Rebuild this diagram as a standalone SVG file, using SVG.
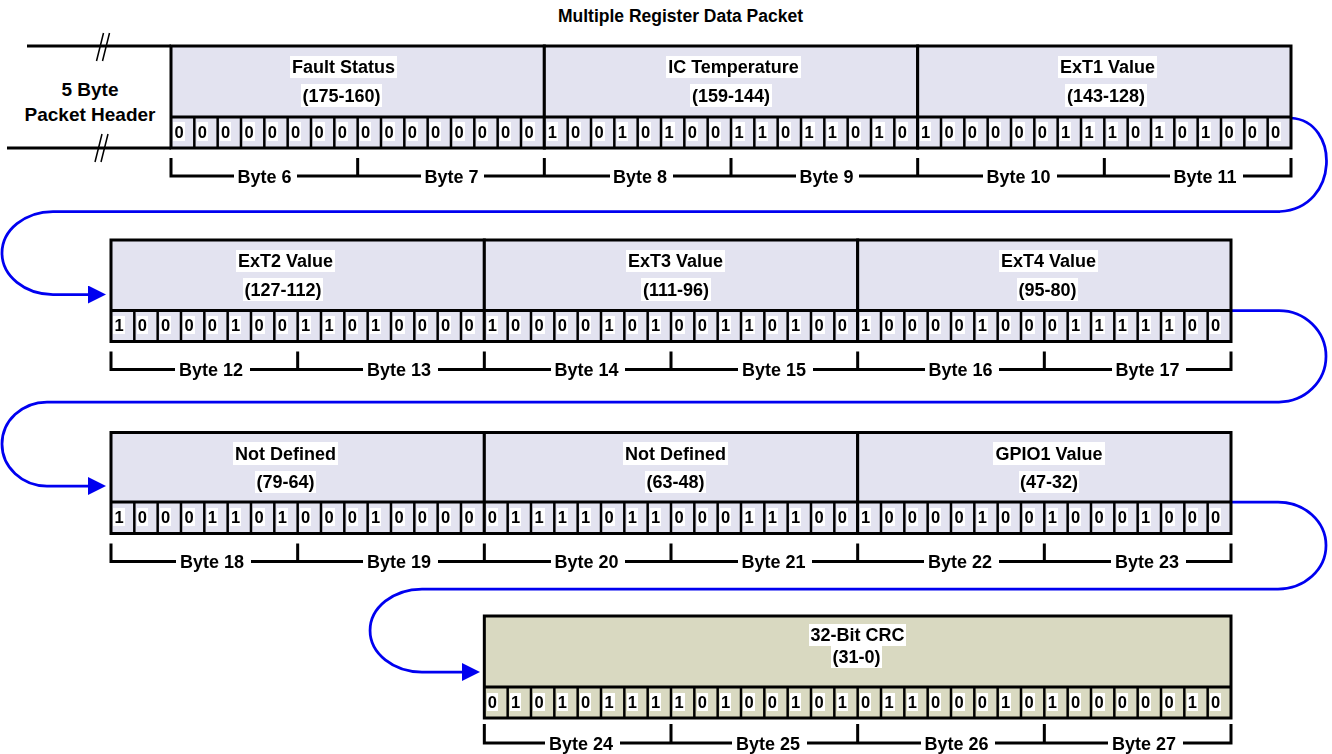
<svg xmlns="http://www.w3.org/2000/svg" width="1332" height="754" viewBox="0 0 1332 754">
<defs>
<style>
text{font-family:"Liberation Sans",Arial,Helvetica,sans-serif;font-weight:bold;fill:#000}
.ttl{font-size:17.5px;text-anchor:middle}
.hdr{font-size:19px;text-anchor:middle}
.lbl{font-size:18px;text-anchor:middle;filter:url(#wb)}
.bl{font-size:18px;text-anchor:middle;filter:url(#wbb)}
.d{font-size:16.5px;text-anchor:middle;filter:url(#wbd)}
.fld{fill:#e3e3f0;stroke:#000;stroke-width:3}
.crc{fill:#d9d9c1;stroke:#000;stroke-width:3}
.ln{fill:none;stroke:#000;stroke-width:3}
.cell{fill:none;stroke:#000;stroke-width:2.5}
.br{fill:none;stroke:#000;stroke-width:3}
.brk{fill:none;stroke:#000;stroke-width:1.5}
.con{fill:none;stroke:#0000f0;stroke-width:2.75}
</style>
<filter id="wb" x="-0.015" y="-0.04" width="1.03" height="1.08" color-interpolation-filters="sRGB"><feFlood flood-color="#ffffff"/><feComposite in="SourceGraphic" operator="over"/></filter>
<filter id="wbb" x="-0.05" y="0" width="1.15" height="1" color-interpolation-filters="sRGB"><feFlood flood-color="#ffffff"/><feComposite in="SourceGraphic" operator="over"/></filter>
<filter id="wbd" x="-0.06" y="0" width="1.12" height="1" color-interpolation-filters="sRGB"><feFlood flood-color="#ffffff"/><feComposite in="SourceGraphic" operator="over"/></filter>
<marker id="ah" viewBox="0 0 18 18" markerWidth="18" markerHeight="18" refX="0" refY="9" orient="auto" markerUnits="userSpaceOnUse"><path d="M0,0 L18,9 L0,18 z" fill="#0000f0"/></marker>
</defs>

<rect x="0" y="0" width="1332" height="754" fill="#ffffff"/>

<g id="title"><text class="ttl" x="680.5" y="22">Multiple Register Data Packet</text></g>

<g id="packet-header">
<path class="ln" d="M27,46H171M7,148H171"/>
<path class="brk" d="M103.5,33L96.5,61M109.5,33L102.5,61M102,134L95,162M108,134L101,162"/>
<text class="hdr" x="90" y="96">5 Byte</text>
<text class="hdr" x="90" y="120.5">Packet Header</text>
</g>

<g id="connectors">
<path class="con" d="M1291,118 C1340,121 1340,208 1280,211.5 H53 A51,41.5 0 0 0 53,294.5 H88" marker-end="url(#ah)"/>
<path class="con" d="M1231,310.5 H1279 A47,45.75 0 0 1 1279,402 H47 A45,42 0 0 0 47,486 H88" marker-end="url(#ah)"/>
<path class="con" d="M1231,502 H1278 A48,43.5 0 0 1 1278,589 H422 A52,41.5 0 0 0 422,672 H462" marker-end="url(#ah)"/>
</g>

<!-- Row 1 -->
<g id="fault-status">
<rect class="fld" x="171" y="46" width="373.33" height="102"/>
<path class="ln" d="M171,117H544.33"/>
<path class="cell" d="M194.33,117v31m23.333,-31v31m23.333,-31v31m23.333,-31v31m23.333,-31v31m23.333,-31v31m23.333,-31v31m23.333,-31v31m23.333,-31v31m23.333,-31v31m23.333,-31v31m23.333,-31v31m23.333,-31v31m23.333,-31v31m23.333,-31v31"/>
<text class="lbl" x="343.5" y="73">Fault Status</text>
<text class="lbl" x="341.5" y="101.5">(175-160)</text>
<g transform="translate(171,137.5)"><text class="d" x="8">0</text><text class="d" x="31.33">0</text><text class="d" x="54.67">0</text><text class="d" x="78">0</text><text class="d" x="101.33">0</text><text class="d" x="124.67">0</text><text class="d" x="148">0</text><text class="d" x="171.33">0</text></g>
<g transform="translate(357.67,137.5)"><text class="d" x="8">0</text><text class="d" x="31.33">0</text><text class="d" x="54.67">0</text><text class="d" x="78">0</text><text class="d" x="101.33">0</text><text class="d" x="124.67">0</text><text class="d" x="148">0</text><text class="d" x="171.33">0</text></g>
</g>

<g id="ic-temperature">
<rect class="fld" x="544.33" y="46" width="373.33" height="102"/>
<path class="ln" d="M544.33,117H917.67"/>
<path class="cell" d="M567.67,117v31m23.333,-31v31m23.333,-31v31m23.333,-31v31m23.333,-31v31m23.333,-31v31m23.333,-31v31m23.333,-31v31m23.333,-31v31m23.333,-31v31m23.333,-31v31m23.333,-31v31m23.333,-31v31m23.333,-31v31m23.333,-31v31"/>
<text class="lbl" x="733.5" y="73">IC Temperature</text>
<text class="lbl" x="731" y="101.5">(159-144)</text>
<g transform="translate(544.33,137.5)"><text class="d" x="8">1</text><text class="d" x="31.33">0</text><text class="d" x="54.67">0</text><text class="d" x="78">1</text><text class="d" x="101.33">0</text><text class="d" x="124.67">1</text><text class="d" x="148">0</text><text class="d" x="171.33">0</text></g>
<g transform="translate(731,137.5)"><text class="d" x="8">1</text><text class="d" x="31.33">1</text><text class="d" x="54.67">0</text><text class="d" x="78">1</text><text class="d" x="101.33">1</text><text class="d" x="124.67">0</text><text class="d" x="148">1</text><text class="d" x="171.33">0</text></g>
</g>

<g id="ext1-value">
<rect class="fld" x="917.67" y="46" width="373.33" height="102"/>
<path class="ln" d="M917.67,117H1291"/>
<path class="cell" d="M941,117v31m23.333,-31v31m23.333,-31v31m23.333,-31v31m23.333,-31v31m23.333,-31v31m23.333,-31v31m23.333,-31v31m23.333,-31v31m23.333,-31v31m23.333,-31v31m23.333,-31v31m23.333,-31v31m23.333,-31v31m23.333,-31v31"/>
<text class="lbl" x="1107.5" y="73">ExT1 Value</text>
<text class="lbl" x="1106" y="101.5">(143-128)</text>
<g transform="translate(917.67,137.5)"><text class="d" x="8">1</text><text class="d" x="31.33">0</text><text class="d" x="54.67">0</text><text class="d" x="78">0</text><text class="d" x="101.33">0</text><text class="d" x="124.67">0</text><text class="d" x="148">1</text><text class="d" x="171.33">1</text></g>
<g transform="translate(1104.33,137.5)"><text class="d" x="8">1</text><text class="d" x="31.33">0</text><text class="d" x="54.67">1</text><text class="d" x="78">0</text><text class="d" x="101.33">1</text><text class="d" x="124.67">0</text><text class="d" x="148">0</text><text class="d" x="171.33">0</text></g>
</g>

<g id="bytes-row1">
<path class="br" d="M171,158V176H1291V158M357.67,158V177.5M544.33,158V177.5M731,158V177.5M917.67,158V177.5M1104.33,158V177.5"/>
<text class="bl" x="264.5" y="182.5">Byte 6</text>
<text class="bl" x="451.5" y="182.5">Byte 7</text>
<text class="bl" x="640" y="182.5">Byte 8</text>
<text class="bl" x="826.5" y="182.5">Byte 9</text>
<text class="bl" x="1018.5" y="182.5">Byte 10</text>
<text class="bl" x="1205" y="182.5">Byte 11</text>
</g>

<!-- Row 2 -->
<g id="ext2-value">
<rect class="fld" x="111" y="240" width="373.33" height="101.5"/>
<path class="ln" d="M111,310.5H484.33"/>
<path class="cell" d="M134.33,310.5v31m23.333,-31v31m23.333,-31v31m23.333,-31v31m23.333,-31v31m23.333,-31v31m23.333,-31v31m23.333,-31v31m23.333,-31v31m23.333,-31v31m23.333,-31v31m23.333,-31v31m23.333,-31v31m23.333,-31v31m23.333,-31v31"/>
<text class="lbl" x="285.5" y="267">ExT2 Value</text>
<text class="lbl" x="283" y="295.5">(127-112)</text>
<g transform="translate(111,331)"><text class="d" x="8">1</text><text class="d" x="31.33">0</text><text class="d" x="54.67">0</text><text class="d" x="78">0</text><text class="d" x="101.33">0</text><text class="d" x="124.67">1</text><text class="d" x="148">0</text><text class="d" x="171.33">0</text></g>
<g transform="translate(297.67,331)"><text class="d" x="8">1</text><text class="d" x="31.33">1</text><text class="d" x="54.67">0</text><text class="d" x="78">1</text><text class="d" x="101.33">0</text><text class="d" x="124.67">0</text><text class="d" x="148">0</text><text class="d" x="171.33">0</text></g>
</g>

<g id="ext3-value">
<rect class="fld" x="484.33" y="240" width="373.33" height="101.5"/>
<path class="ln" d="M484.33,310.5H857.67"/>
<path class="cell" d="M507.67,310.5v31m23.333,-31v31m23.333,-31v31m23.333,-31v31m23.333,-31v31m23.333,-31v31m23.333,-31v31m23.333,-31v31m23.333,-31v31m23.333,-31v31m23.333,-31v31m23.333,-31v31m23.333,-31v31m23.333,-31v31m23.333,-31v31"/>
<text class="lbl" x="675.5" y="267">ExT3 Value</text>
<text class="lbl" x="676" y="295.5">(111-96)</text>
<g transform="translate(484.33,331)"><text class="d" x="8">1</text><text class="d" x="31.33">0</text><text class="d" x="54.67">0</text><text class="d" x="78">0</text><text class="d" x="101.33">0</text><text class="d" x="124.67">1</text><text class="d" x="148">0</text><text class="d" x="171.33">1</text></g>
<g transform="translate(671,331)"><text class="d" x="8">0</text><text class="d" x="31.33">0</text><text class="d" x="54.67">1</text><text class="d" x="78">1</text><text class="d" x="101.33">0</text><text class="d" x="124.67">1</text><text class="d" x="148">0</text><text class="d" x="171.33">0</text></g>
</g>

<g id="ext4-value">
<rect class="fld" x="857.67" y="240" width="373.33" height="101.5"/>
<path class="ln" d="M857.67,310.5H1231"/>
<path class="cell" d="M881,310.5v31m23.333,-31v31m23.333,-31v31m23.333,-31v31m23.333,-31v31m23.333,-31v31m23.333,-31v31m23.333,-31v31m23.333,-31v31m23.333,-31v31m23.333,-31v31m23.333,-31v31m23.333,-31v31m23.333,-31v31m23.333,-31v31"/>
<text class="lbl" x="1048.5" y="267">ExT4 Value</text>
<text class="lbl" x="1047.5" y="295.5">(95-80)</text>
<g transform="translate(857.67,331)"><text class="d" x="8">1</text><text class="d" x="31.33">0</text><text class="d" x="54.67">0</text><text class="d" x="78">0</text><text class="d" x="101.33">0</text><text class="d" x="124.67">1</text><text class="d" x="148">0</text><text class="d" x="171.33">0</text></g>
<g transform="translate(1044.33,331)"><text class="d" x="8">0</text><text class="d" x="31.33">1</text><text class="d" x="54.67">1</text><text class="d" x="78">1</text><text class="d" x="101.33">1</text><text class="d" x="124.67">1</text><text class="d" x="148">0</text><text class="d" x="171.33">0</text></g>
</g>

<g id="bytes-row2">
<path class="br" d="M111,351.5V369.5H1231V351.5M297.67,351.5V371M484.33,351.5V371M671,351.5V371M857.67,351.5V371M1044.33,351.5V371"/>
<text class="bl" x="211" y="376">Byte 12</text>
<text class="bl" x="399" y="376">Byte 13</text>
<text class="bl" x="586.5" y="376">Byte 14</text>
<text class="bl" x="774" y="376">Byte 15</text>
<text class="bl" x="960.5" y="376">Byte 16</text>
<text class="bl" x="1147.5" y="376">Byte 17</text>
</g>

<!-- Row 3 -->
<g id="not-defined-1">
<rect class="fld" x="111" y="432.5" width="373.33" height="101"/>
<path class="ln" d="M111,502H484.33"/>
<path class="cell" d="M134.33,502v31.5m23.333,-31.5v31.5m23.333,-31.5v31.5m23.333,-31.5v31.5m23.333,-31.5v31.5m23.333,-31.5v31.5m23.333,-31.5v31.5m23.333,-31.5v31.5m23.333,-31.5v31.5m23.333,-31.5v31.5m23.333,-31.5v31.5m23.333,-31.5v31.5m23.333,-31.5v31.5m23.333,-31.5v31.5m23.333,-31.5v31.5"/>
<text class="lbl" x="285.5" y="459.5">Not Defined</text>
<text class="lbl" x="285.5" y="488">(79-64)</text>
<g transform="translate(111,523)"><text class="d" x="8">1</text><text class="d" x="31.33">0</text><text class="d" x="54.67">0</text><text class="d" x="78">0</text><text class="d" x="101.33">1</text><text class="d" x="124.67">1</text><text class="d" x="148">0</text><text class="d" x="171.33">1</text></g>
<g transform="translate(297.67,523)"><text class="d" x="8">0</text><text class="d" x="31.33">0</text><text class="d" x="54.67">0</text><text class="d" x="78">1</text><text class="d" x="101.33">0</text><text class="d" x="124.67">0</text><text class="d" x="148">0</text><text class="d" x="171.33">0</text></g>
</g>

<g id="not-defined-2">
<rect class="fld" x="484.33" y="432.5" width="373.33" height="101"/>
<path class="ln" d="M484.33,502H857.67"/>
<path class="cell" d="M507.67,502v31.5m23.333,-31.5v31.5m23.333,-31.5v31.5m23.333,-31.5v31.5m23.333,-31.5v31.5m23.333,-31.5v31.5m23.333,-31.5v31.5m23.333,-31.5v31.5m23.333,-31.5v31.5m23.333,-31.5v31.5m23.333,-31.5v31.5m23.333,-31.5v31.5m23.333,-31.5v31.5m23.333,-31.5v31.5m23.333,-31.5v31.5"/>
<text class="lbl" x="675.5" y="459.5">Not Defined</text>
<text class="lbl" x="675.5" y="488">(63-48)</text>
<g transform="translate(484.33,523)"><text class="d" x="8">0</text><text class="d" x="31.33">1</text><text class="d" x="54.67">1</text><text class="d" x="78">1</text><text class="d" x="101.33">1</text><text class="d" x="124.67">0</text><text class="d" x="148">1</text><text class="d" x="171.33">1</text></g>
<g transform="translate(671,523)"><text class="d" x="8">0</text><text class="d" x="31.33">0</text><text class="d" x="54.67">0</text><text class="d" x="78">1</text><text class="d" x="101.33">1</text><text class="d" x="124.67">1</text><text class="d" x="148">0</text><text class="d" x="171.33">0</text></g>
</g>

<g id="gpio1-value">
<rect class="fld" x="857.67" y="432.5" width="373.33" height="101"/>
<path class="ln" d="M857.67,502H1231"/>
<path class="cell" d="M881,502v31.5m23.333,-31.5v31.5m23.333,-31.5v31.5m23.333,-31.5v31.5m23.333,-31.5v31.5m23.333,-31.5v31.5m23.333,-31.5v31.5m23.333,-31.5v31.5m23.333,-31.5v31.5m23.333,-31.5v31.5m23.333,-31.5v31.5m23.333,-31.5v31.5m23.333,-31.5v31.5m23.333,-31.5v31.5m23.333,-31.5v31.5"/>
<text class="lbl" x="1049" y="459.5">GPIO1 Value</text>
<text class="lbl" x="1049" y="488">(47-32)</text>
<g transform="translate(857.67,523)"><text class="d" x="8">1</text><text class="d" x="31.33">0</text><text class="d" x="54.67">0</text><text class="d" x="78">0</text><text class="d" x="101.33">0</text><text class="d" x="124.67">1</text><text class="d" x="148">0</text><text class="d" x="171.33">0</text></g>
<g transform="translate(1044.33,523)"><text class="d" x="8">1</text><text class="d" x="31.33">0</text><text class="d" x="54.67">0</text><text class="d" x="78">0</text><text class="d" x="101.33">1</text><text class="d" x="124.67">0</text><text class="d" x="148">0</text><text class="d" x="171.33">0</text></g>
</g>

<g id="bytes-row3">
<path class="br" d="M111,543.5V561.5H1231V543.5M297.67,543.5V563M484.33,543.5V563M671,543.5V563M857.67,543.5V563M1044.33,543.5V563"/>
<text class="bl" x="212" y="568">Byte 18</text>
<text class="bl" x="399" y="568">Byte 19</text>
<text class="bl" x="586.5" y="568">Byte 20</text>
<text class="bl" x="773.5" y="568">Byte 21</text>
<text class="bl" x="960" y="568">Byte 22</text>
<text class="bl" x="1147" y="568">Byte 23</text>
</g>

<!-- Row 4 -->
<g id="crc-32">
<rect class="crc" x="484.33" y="616" width="746.67" height="102"/>
<path class="ln" d="M484.33,687H1231"/>
<path class="cell" d="M507.67,687v31m23.333,-31v31m23.333,-31v31m23.333,-31v31m23.333,-31v31m23.333,-31v31m23.333,-31v31m23.333,-31v31m23.333,-31v31m23.333,-31v31m23.333,-31v31m23.333,-31v31m23.333,-31v31m23.333,-31v31m23.333,-31v31m23.333,-31v31m23.333,-31v31m23.333,-31v31m23.333,-31v31m23.333,-31v31m23.333,-31v31m23.333,-31v31m23.333,-31v31m23.333,-31v31m23.333,-31v31m23.333,-31v31m23.333,-31v31m23.333,-31v31m23.333,-31v31m23.333,-31v31m23.333,-31v31"/>
<text class="lbl" x="857.5" y="641">32-Bit CRC</text>
<text class="lbl" x="856.5" y="663">(31-0)</text>
<g transform="translate(484.33,708)"><text class="d" x="8">0</text><text class="d" x="31.33">1</text><text class="d" x="54.67">0</text><text class="d" x="78">1</text><text class="d" x="101.33">0</text><text class="d" x="124.67">1</text><text class="d" x="148">1</text><text class="d" x="171.33">1</text></g>
<g transform="translate(671,708)"><text class="d" x="8">1</text><text class="d" x="31.33">0</text><text class="d" x="54.67">1</text><text class="d" x="78">0</text><text class="d" x="101.33">0</text><text class="d" x="124.67">1</text><text class="d" x="148">0</text><text class="d" x="171.33">1</text></g>
<g transform="translate(857.67,708)"><text class="d" x="8">0</text><text class="d" x="31.33">1</text><text class="d" x="54.67">1</text><text class="d" x="78">0</text><text class="d" x="101.33">0</text><text class="d" x="124.67">0</text><text class="d" x="148">1</text><text class="d" x="171.33">0</text></g>
<g transform="translate(1044.33,708)"><text class="d" x="8">1</text><text class="d" x="31.33">0</text><text class="d" x="54.67">0</text><text class="d" x="78">0</text><text class="d" x="101.33">0</text><text class="d" x="124.67">0</text><text class="d" x="148">1</text><text class="d" x="171.33">0</text></g>
</g>

<g id="bytes-row4">
<path class="br" d="M484.33,724V743H1231V724M671,724V744.5M857.67,724V744.5M1044.33,724V744.5"/>
<text class="bl" x="581" y="749.5">Byte 24</text>
<text class="bl" x="768" y="749.5">Byte 25</text>
<text class="bl" x="956.5" y="749.5">Byte 26</text>
<text class="bl" x="1144" y="749.5">Byte 27</text>
</g>
</svg>
